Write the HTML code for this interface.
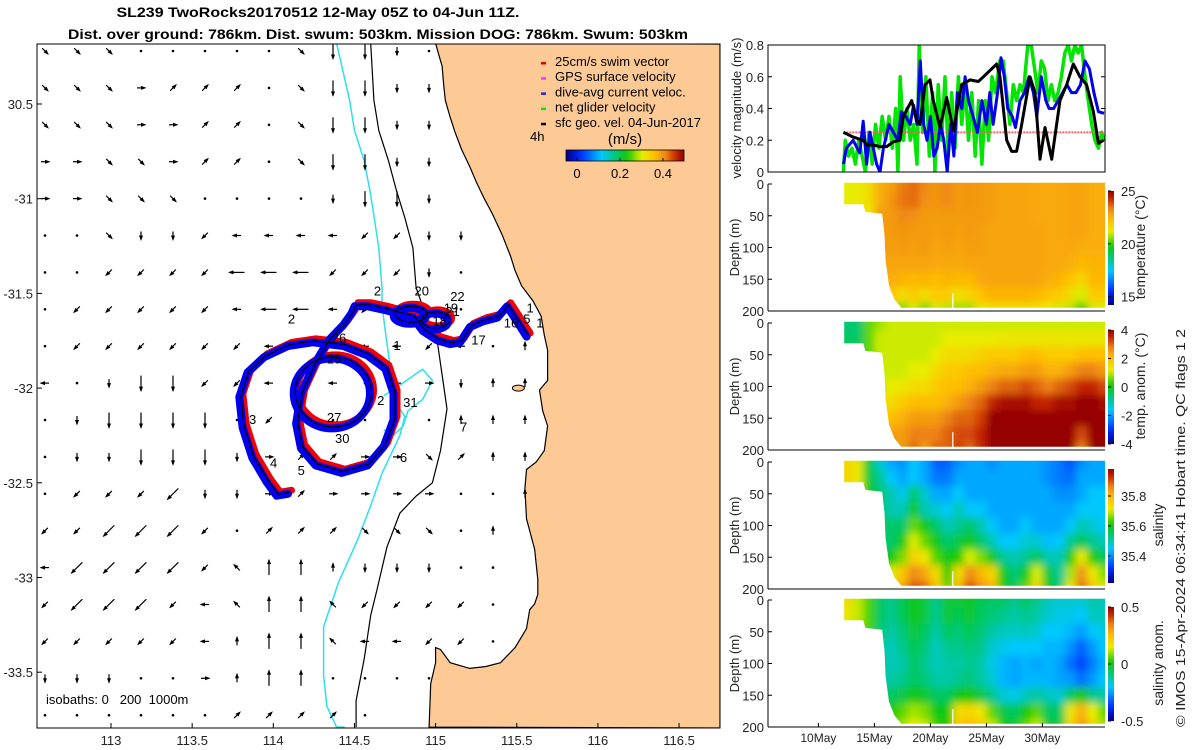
<!DOCTYPE html>
<html><head><meta charset="utf-8">
<style>
html,body{margin:0;padding:0;background:#fff;}
svg{display:block;font-family:"Liberation Sans","DejaVu Sans",sans-serif;}
</style></head>
<body>
<svg id="fig" width="1200" height="750" viewBox="0 0 1200 750" xmlns="http://www.w3.org/2000/svg">
<defs>
<filter id="blur" x="-5%" y="-5%" width="110%" height="110%"><feGaussianBlur stdDeviation="4"/></filter>
<linearGradient id="jetH" x1="0" x2="1" y1="0" y2="0"></linearGradient>
<linearGradient id="jetV" x1="0" x2="0" y1="1" y2="0"></linearGradient>
</defs>
<g font-weight="bold" font-size="14" text-anchor="middle">
<text x="318" y="17" textLength="403" lengthAdjust="spacingAndGlyphs">SL239 TwoRocks20170512 12-May 05Z to 04-Jun 11Z.</text>
<text x="378" y="39" textLength="620" lengthAdjust="spacingAndGlyphs">Dist. over ground: 786km. Dist. swum: 503km. Mission DOG: 786km. Swum: 503km</text>
</g>
<g id="map"></g>
<g id="vel"></g>
<g id="sections"></g>
<text transform="translate(1185,727) rotate(-90)" font-size="13" fill="#222" textLength="398" lengthAdjust="spacingAndGlyphs">© IMOS 15-Apr-2024 06:34:41 Hobart time. QC flags 1  2</text>
</svg>
<script>
// ---------------- DATA ----------------
const coastLon=[115.00,115.02,115.04,115.05,115.06,115.09,115.12,115.16,115.21,115.25,115.30,115.35,115.41,115.46,115.49,115.53,115.60,115.65,115.67,115.69,115.69,115.69,115.64,115.66,115.69,115.67,115.62,115.56,115.55,115.56,115.61,115.63,115.63,115.61,115.58,115.56,115.49,115.40,115.31,115.21,115.09,115.03,115.00,115.00,114.97,114.96];
const coastLat=[-30.18,-30.24,-30.30,-30.40,-30.48,-30.57,-30.65,-30.74,-30.83,-30.91,-31.00,-31.08,-31.19,-31.30,-31.38,-31.46,-31.54,-31.62,-31.72,-31.80,-31.88,-31.96,-32.01,-32.12,-32.20,-32.33,-32.39,-32.43,-32.53,-32.69,-32.85,-33.01,-33.09,-33.14,-33.17,-33.27,-33.37,-33.45,-33.47,-33.48,-33.45,-33.38,-33.37,-33.45,-33.56,-33.79];
const iso200Lon=[114.39,114.47,114.50,114.56,114.60,114.65,114.67,114.67,114.69,114.75,114.81,114.78,114.67,114.60,114.52,114.40,114.31,114.31,114.33,114.39,114.44];
const iso200Lat=[-30.18,-30.48,-30.64,-30.80,-30.98,-31.26,-31.47,-31.56,-31.70,-32.07,-32.15,-32.25,-32.45,-32.62,-32.80,-33.03,-33.26,-33.52,-33.68,-33.79,-33.79];
const iso1000Lon=[114.60,114.62,114.65,114.71,114.76,114.81,114.86,114.88,114.95,115.01,115.07,115.03,114.98,114.88,114.78,114.70,114.64,114.60,114.56,114.51,114.51];
const iso1000Lat=[-30.18,-30.48,-30.64,-30.80,-30.96,-31.10,-31.26,-31.47,-31.64,-31.75,-32.11,-32.33,-32.50,-32.57,-32.66,-32.84,-33.06,-33.20,-33.43,-33.65,-33.79];
const canyonLon=[114.68,114.77,114.92,114.98,114.92,114.83,114.80,114.74,114.68];
const canyonLat=[-32.04,-31.99,-31.90,-31.96,-32.06,-32.12,-32.20,-32.25,-32.22];
const trackLon=[115.57,115.51,115.45,115.39,115.30,115.22,115.16,115.10,115.02,114.93,114.87,114.78,114.70,114.59,114.51,114.49,114.44,114.35,114.26,114.18,114.15,114.18,114.27,114.43,114.59,114.69,114.75,114.75,114.70,114.59,114.44,114.25,114.10,113.95,113.85,113.80,113.82,113.88,113.97,114.03,114.10];
const trackLat=[-31.72,-31.64,-31.56,-31.62,-31.64,-31.67,-31.75,-31.76,-31.74,-31.69,-31.62,-31.60,-31.58,-31.56,-31.56,-31.60,-31.66,-31.74,-31.87,-32.02,-32.18,-32.31,-32.40,-32.44,-32.40,-32.30,-32.16,-32.02,-31.89,-31.82,-31.77,-31.75,-31.77,-31.83,-31.91,-32.04,-32.20,-32.36,-32.49,-32.56,-32.55];
const innerLon=114.37, innerLat=-32.02, innerRx=0.235, innerRy=0.185;
const loopALon=114.85, loopALat=-31.61, loopBLon=115.00, loopBLat=-31.64;
const trackLabels=["2","20","22","19","21","18","16","17","1","5","1","2","26","25","1","31","2","27","30","3","4","5","6","7"];
const labelLon=[114.62,114.87,115.09,115.05,115.06,114.98,115.42,115.22,115.56,115.54,115.62,114.09,114.36,114.33,114.74,114.80,114.64,114.33,114.38,113.85,113.98,114.15,114.78,115.15];
const labelLat=[-31.51,-31.51,-31.54,-31.60,-31.62,-31.67,-31.68,-31.77,-31.60,-31.66,-31.68,-31.66,-31.76,-31.87,-31.80,-32.10,-32.09,-32.18,-32.29,-32.19,-32.42,-32.46,-32.39,-32.23];
const vecRows=[
"ccc.....cDDd.    ",
"cccrnnn.cDDdd    ",
"cccrrnn.cDDdd    ",
"rrccrnn.cDDdd    ",
"rrccc....dDDd    ",
"..cddbllllbbdd   ",
"..bbbbLLLbbbd.   ",
".bbbbblLLlb.l.   ",
".bbbbbblllllbl.u ",
"l.dDDbbl.l.lrduu ",
".dDDDD.b.....uuu ",
".ddDDDdrnnrrcnuu ",
".bbbBddrnrrrr..u ",
"bbBBBb.nnnccc.u  ",
"lBBBBbwUUuddd..  ",
"bBBBblwUUwbbbb.  ",
"bbbbbluUUwllbb.  ",
"ddd..ruUU....    ",
"......nnnn.      "];
const blackDay=[12.23,13.12,14.01,14.31,14.9,15.5,16.1,16.69,17.29,17.58,18.33,18.77,19.07,19.52,19.96,20.26,20.86,21.45,22.05,22.79,23.54,24.28,24.73,25.32,25.92,26.21,26.81,27.26,27.7,28.15,28.89,29.34,29.79,30.23,30.83,31.57,32.17,32.76,33.36,33.95,34.55,35.0,35.44];
const blackVal=[0.25,0.22,0.2,0.17,0.17,0.16,0.16,0.19,0.2,0.35,0.45,0.33,0.3,0.55,0.58,0.45,0.28,0.47,0.26,0.55,0.58,0.57,0.6,0.64,0.68,0.6,0.2,0.13,0.13,0.3,0.6,0.5,0.08,0.28,0.08,0.45,0.55,0.68,0.6,0.55,0.38,0.18,0.2];
const blueDay=[12.23,12.5,13.1,13.7,14.0,14.3,14.6,14.9,15.2,15.5,15.8,16.3,16.7,17.1,17.4,17.8,18.2,18.5,18.8,19.1,19.4,19.7,20.0,20.3,20.6,20.9,21.2,21.5,21.8,22.1,22.4,22.8,23.1,23.4,23.8,24.2,24.6,25.0,25.3,25.6,26.0,26.3,26.6,26.9,27.3,27.6,28.0,28.4,28.8,29.2,29.5,29.9,30.3,30.6,31.0,31.4,31.8,32.2,32.6,33.0,33.4,33.8,34.2,34.6,35.0,35.5];
const blueVal=[0.05,0.15,0.2,0.12,0.32,0.05,0.25,0.15,0.05,0.0,0.15,0.3,0.25,0.2,0.38,0.35,0.3,0.42,0.3,0.7,0.3,0.2,0.35,0.1,0.15,0.3,0.2,0.0,0.3,0.1,0.5,0.4,0.6,0.45,0.35,0.25,0.45,0.3,0.5,0.3,0.5,0.72,0.6,0.4,0.35,0.28,0.45,0.5,0.6,0.5,0.35,0.6,0.45,0.4,0.4,0.45,0.5,0.55,0.5,0.5,0.55,0.7,0.65,0.5,0.38,0.37];
const greenDay=[12.23,12.4,12.7,13.0,13.3,13.6,13.9,14.2,14.5,14.8,15.1,15.4,15.7,16.0,16.3,16.6,16.9,17.1,17.3,17.6,17.9,18.2,18.5,18.8,19.0,19.3,19.6,19.9,20.2,20.4,20.7,21.0,21.3,21.6,21.9,22.2,22.5,22.8,23.1,23.4,23.7,24.0,24.3,24.6,24.9,25.2,25.5,25.8,26.2,26.5,26.8,27.1,27.4,27.7,28.0,28.3,28.7,29.0,29.3,29.6,29.9,30.2,30.5,30.8,31.1,31.4,31.7,32.0,32.3,32.6,32.9,33.2,33.5,33.8,34.1,34.4,34.7,35.0,35.3,35.5];
const greenVal=[0.0,0.2,0.1,0.15,0.05,0.2,0.1,0.0,0.25,0.05,0.3,0.15,0.35,0.2,0.35,0.15,0.4,0.0,0.6,0.2,0.4,0.2,0.3,0.05,0.8,0.25,0.6,0.1,0.5,0.0,0.55,0.2,0.6,0.1,0.5,0.15,0.6,0.3,0.55,0.2,0.5,0.1,0.45,0.05,0.45,0.2,0.6,0.5,0.7,0.7,0.5,0.3,0.55,0.45,0.55,0.5,0.8,0.8,0.65,0.5,0.7,0.65,0.45,0.55,0.45,0.5,0.6,0.75,0.8,0.7,0.8,0.75,0.8,0.6,0.45,0.3,0.2,0.15,0.25,0.2];
const swimSpeed=0.25;
const velTicks=[0,0.2,0.4,0.6,0.8];
const secDays=[12.5,13.5,14.5,15.5,16.5,17.5,18.5,19.5,20.5,21.5,22.5,23.5,24.5,25.5,26.5,27.5,28.5,29.5,30.5,31.5,32.5,33.5,34.5,35.5];
const secDepths=[0,25,50,75,100,125,150,175,200];
const maskDay=[12.3,35.6,35.6,17.4,16.8,16.3,16.0,15.9,15.7,14.2,14.0,12.3];
const maskDepth=[-2,-2,195,195,182,160,120,80,47,44,32,32];
const tempVals=[
[21.2,21.2,21.6,22.6,22.9,23.4,23.6,23.3,23.1,23.3,23.0,23.1,23.0,22.9,22.8,22.8,22.8,22.7,22.7,22.7,22.8,22.8,22.6,22.6],
[21.2,21.2,21.6,22.6,23.1,23.5,23.6,23.2,23.1,23.3,23.0,23.1,23.0,22.9,22.8,22.8,22.8,22.7,22.7,22.7,22.8,22.8,22.6,22.6],
[21.2,21.2,21.3,23.0,23.0,23.3,23.2,23.0,23.0,23.0,23.0,23.0,23.0,22.9,22.8,22.8,22.8,22.7,22.7,22.7,22.8,22.8,22.6,22.6],
[21.5,21.5,21.5,23.0,23.0,23.1,23.0,23.0,22.9,23.0,22.9,23.0,22.9,22.8,22.8,22.8,22.8,22.8,22.7,22.7,22.8,22.8,22.6,22.6],
[21.5,21.5,21.5,23.0,22.9,23.0,22.9,23.0,22.8,22.9,22.8,22.9,22.9,22.8,22.8,22.8,22.8,22.8,22.7,22.7,22.7,22.6,22.6,22.6],
[21.5,21.5,21.5,22.8,22.8,22.8,22.8,22.8,22.7,22.7,22.7,22.8,22.8,22.8,22.8,22.8,22.8,22.8,22.7,22.7,22.6,22.4,22.5,22.5],
[21.5,21.5,21.5,22.6,22.6,22.5,22.4,22.5,22.3,22.5,22.4,22.4,22.7,22.8,22.8,22.8,22.8,22.8,22.6,22.5,22.2,21.8,22.4,22.4],
[21.5,21.5,21.5,22.2,22.2,21.6,22.0,21.6,22.0,22.0,21.5,21.8,22.2,22.5,22.5,22.5,22.5,22.4,22.2,22.0,21.6,21.0,22.0,22.0],
[21.0,21.0,21.0,21.0,21.2,20.3,21.0,20.3,21.0,20.8,20.6,20.6,21.3,21.5,21.5,21.5,21.5,21.5,21.2,21.0,20.8,19.8,21.0,21.0]];
const tanomVals=[
[-0.6,-0.6,0.5,0.8,1.0,1.0,1.0,1.0,1.0,1.0,1.0,1.0,1.0,1.0,1.0,1.0,1.0,1.0,1.0,1.0,1.0,1.0,1.0,1.0],
[-0.5,-0.5,0.5,1.0,1.0,1.0,1.0,1.0,1.0,1.2,1.2,1.2,1.2,1.2,1.3,1.3,1.3,1.3,1.3,1.3,1.3,1.3,1.3,1.3],
[0.0,0.0,0.5,1.0,1.0,1.0,1.0,1.0,1.2,1.5,1.5,1.5,1.7,1.8,1.8,1.8,2.0,2.0,1.8,1.8,1.8,2.0,2.0,2.0],
[0.0,0.0,0.5,1.0,1.0,1.0,1.2,1.2,1.5,1.8,1.8,2.0,2.0,2.2,2.3,2.3,2.5,2.5,2.2,2.2,2.5,2.8,2.8,2.5],
[0.0,0.0,1.0,1.0,1.2,1.3,1.5,1.5,1.8,2.0,2.0,2.2,2.5,2.8,3.0,3.0,3.2,3.0,2.8,3.0,3.2,3.5,3.5,3.2],
[0.0,0.0,1.0,1.5,1.5,1.8,2.0,2.0,2.0,2.2,2.5,2.8,3.0,3.5,3.8,3.8,3.8,3.5,3.5,3.8,3.8,4.0,4.0,3.8],
[0.0,0.0,1.0,1.8,2.0,2.2,2.5,2.5,2.5,2.8,3.0,3.0,3.3,4.0,4.0,4.0,4.0,4.0,4.0,4.0,4.0,4.0,4.0,4.0],
[0.0,0.0,1.0,2.0,2.5,2.5,2.8,2.8,2.8,3.0,3.2,3.2,3.5,4.0,4.0,4.0,4.0,4.0,4.0,4.0,4.0,3.2,4.0,4.0],
[0.0,0.0,1.0,2.0,2.8,2.5,3.0,2.5,3.0,3.0,3.3,3.0,3.5,4.0,4.0,4.0,4.0,4.0,4.0,4.0,4.0,2.8,4.0,4.0]];
const salVals=[
[35.75,35.72,35.58,35.48,35.42,35.40,35.45,35.42,35.36,35.36,35.40,35.42,35.42,35.40,35.42,35.42,35.42,35.42,35.40,35.38,35.35,35.40,35.42,35.42],
[35.75,35.72,35.58,35.52,35.45,35.42,35.45,35.42,35.38,35.38,35.42,35.42,35.42,35.42,35.42,35.42,35.42,35.42,35.40,35.38,35.37,35.42,35.42,35.42],
[35.72,35.70,35.60,35.55,35.50,35.46,35.55,35.48,35.42,35.42,35.45,35.42,35.42,35.42,35.42,35.42,35.42,35.42,35.42,35.40,35.40,35.42,35.45,35.45],
[35.70,35.70,35.60,35.55,35.50,35.50,35.60,35.50,35.48,35.45,35.50,35.45,35.45,35.42,35.42,35.42,35.42,35.42,35.42,35.42,35.42,35.45,35.45,35.45],
[35.70,35.70,35.60,35.55,35.55,35.55,35.65,35.60,35.55,35.50,35.52,35.55,35.50,35.45,35.42,35.42,35.45,35.42,35.42,35.42,35.45,35.50,35.48,35.45],
[35.70,35.70,35.60,35.55,35.55,35.60,35.70,35.65,35.60,35.55,35.57,35.60,35.55,35.50,35.45,35.45,35.48,35.48,35.44,35.45,35.52,35.56,35.52,35.50],
[35.70,35.70,35.60,35.58,35.60,35.66,35.76,35.72,35.64,35.60,35.62,35.70,35.66,35.60,35.52,35.50,35.52,35.56,35.50,35.50,35.62,35.72,35.62,35.56],
[35.70,35.70,35.60,35.60,35.70,35.78,35.86,35.82,35.74,35.62,35.74,35.86,35.80,35.75,35.60,35.54,35.60,35.70,35.58,35.52,35.68,35.85,35.72,35.66],
[35.70,35.70,35.60,35.62,35.75,35.82,35.90,35.88,35.78,35.65,35.80,35.90,35.85,35.80,35.62,35.56,35.65,35.75,35.60,35.55,35.72,35.88,35.78,35.70]];
const sanomVals=[
[0.18,0.12,0.05,-0.06,-0.1,-0.05,0.0,-0.03,-0.1,-0.02,-0.03,0.0,-0.05,-0.06,-0.06,-0.1,-0.06,-0.1,-0.14,-0.16,-0.16,-0.16,-0.12,-0.14],
[0.16,0.12,0.05,-0.06,-0.1,-0.05,0.0,-0.03,-0.1,-0.03,-0.05,-0.02,-0.06,-0.08,-0.1,-0.12,-0.1,-0.12,-0.16,-0.18,-0.18,-0.2,-0.14,-0.14],
[0.12,0.1,0.05,-0.08,-0.12,-0.08,-0.03,-0.06,-0.12,-0.06,-0.08,-0.05,-0.08,-0.12,-0.14,-0.15,-0.14,-0.16,-0.2,-0.2,-0.22,-0.25,-0.2,-0.18],
[0.1,0.08,0.05,-0.1,-0.14,-0.1,-0.05,-0.08,-0.14,-0.1,-0.1,-0.08,-0.1,-0.16,-0.18,-0.2,-0.2,-0.2,-0.22,-0.22,-0.26,-0.32,-0.25,-0.2],
[0.1,0.08,0.05,-0.1,-0.14,-0.12,-0.06,-0.1,-0.14,-0.12,-0.12,-0.1,-0.12,-0.18,-0.22,-0.24,-0.22,-0.24,-0.22,-0.24,-0.3,-0.35,-0.28,-0.22],
[0.1,0.08,0.05,-0.1,-0.12,-0.1,-0.06,-0.08,-0.12,-0.12,-0.1,-0.08,-0.12,-0.16,-0.22,-0.24,-0.22,-0.22,-0.22,-0.24,-0.25,-0.3,-0.25,-0.2],
[0.1,0.08,0.05,-0.06,-0.06,-0.04,0.0,-0.02,-0.06,-0.06,0.0,0.02,-0.04,-0.1,-0.16,-0.18,-0.14,-0.12,-0.14,-0.16,-0.06,0.02,-0.1,-0.12],
[0.1,0.08,0.05,0.0,0.02,0.06,0.1,0.08,0.0,0.0,0.18,0.2,0.16,0.06,-0.04,-0.06,0.02,0.06,-0.06,-0.06,0.16,0.28,0.14,0.06],
[0.1,0.08,0.05,0.02,0.05,0.1,0.14,0.12,0.04,0.02,0.24,0.25,0.22,0.12,0.0,-0.02,0.06,0.12,-0.02,-0.04,0.2,0.32,0.2,0.1]];
const dateTicks=[10,15,20,25,30];
const dateLabels=["10May","15May","20May","25May","30May"];
const depthTicks=[0,50,100,150,200];
const lonTicks=[113,113.5,114,114.5,115,115.5,116,116.5];
const latTicks=[-30.5,-31,-31.5,-32,-32.5,-33,-33.5];
const latLabels=["30.5","-31","-31.5","-32","-32.5","-33","-33.5"];

// ---------------- HELPERS ----------------
const NS="http://www.w3.org/2000/svg";
function mk(tag,attrs,parent){const e=document.createElementNS(NS,tag);for(const k in attrs)e.setAttribute(k,attrs[k]);if(parent)parent.appendChild(e);return e;}
const cmapStops=[[0,[0,0,130]],[0.12,[0,40,255]],[0.3,[0,200,255]],[0.42,[0,200,120]],[0.52,[20,200,0]],[0.64,[230,240,0]],[0.74,[255,195,0]],[0.84,[240,140,20]],[0.93,[200,40,0]],[1,[150,0,0]]];
function cmap(t){t=Math.max(0,Math.min(1,t));for(let i=1;i<cmapStops.length;i++){if(t<=cmapStops[i][0]){const a=cmapStops[i-1],b=cmapStops[i];const f=(t-a[0])/(b[0]-a[0]);const c=a[1].map((v,j)=>Math.round(v+(b[1][j]-v)*f));return `rgb(${c[0]},${c[1]},${c[2]})`;}}return "rgb(150,0,0)";}
for(const id of ["jetH","jetV"]){const g=document.getElementById(id);for(let i=0;i<=20;i++){mk("stop",{offset:(i/20),"stop-color":cmap(i/20)},g);}}

// ---------------- MAP ----------------
const map=document.getElementById("map");
const MX0=37,MX1=720,MY0=44,MY1=728;
const lonX=lon=>111+(lon-113)*162.3;
const latY=lat=>104+(-30.5-lat)*189.4;
mk("rect",{x:MX0,y:MY0,width:MX1-MX0,height:MY1-MY0,fill:"#fff"},map);
const mclip=mk("clipPath",{id:"mclip"},map);mk("rect",{x:MX0,y:MY0,width:MX1-MX0,height:MY1-MY0},mclip);
const mg=mk("g",{"clip-path":"url(#mclip)"},map);
function pts(lons,lats){return lons.map((l,i)=>lonX(l).toFixed(1)+","+latY(lats[i]).toFixed(1)).join(" ");}
const land=mk("polygon",{points:pts(coastLon,coastLat)+` ${MX1},${MY1} ${MX1},${MY0}`,fill:"#fdca96",stroke:"#000","stroke-width":1.2},mg);


const rott=mk("ellipse",{cx:lonX(115.51),cy:latY(-32.0),rx:6,ry:3,fill:"#fdca96",stroke:"#000","stroke-width":1},mg);


const iso2=mk("polyline",{points:pts(iso200Lon,iso200Lat),fill:"none",stroke:"#2ee0ee","stroke-width":1.5},mg);


const isoc=mk("polyline",{points:pts(canyonLon,canyonLat),fill:"none",stroke:"#2ee0ee","stroke-width":1.5},mg);


const iso1=mk("polyline",{points:pts(iso1000Lon,iso1000Lat),fill:"none",stroke:"#000","stroke-width":1.2},mg);


const dirs={d:[0,1],u:[0,-1],r:[1,0],l:[-1,0],c:[0.71,0.71],b:[-0.71,0.71],n:[0.71,-0.71],w:[-0.71,-0.71]};
const vg=mk("g",{},mg);


vecRows.forEach((row,ri)=>{
  for(let ci=0;ci<row.length;ci++){
    const ch=row[ci]; if(ch===' ')continue;
    const x=45+ci*32, y=51+ri*36.9;
    if(ch==='.'){const dt=mk("circle",{cx:x,cy:y,r:1.3,fill:"#000"},vg);
      
      continue;}
    const d=dirs[ch.toLowerCase()]; const L=(ch===ch.toUpperCase())?15:8;
    const x1=x-d[0]*L/2,y1=y-d[1]*L/2,x2=x+d[0]*L/2,y2=y+d[1]*L/2;
    const ln=mk("line",{x1:x1,y1:y1,x2:x2,y2:y2,stroke:"#000","stroke-width":1.2},vg);
    
    
    const px=-d[1],py=d[0],h=4,w=2;
    const hd=mk("polygon",{points:`${x2+d[0]*1.5},${y2+d[1]*1.5} ${x2-d[0]*h+px*w},${y2-d[1]*h+py*w} ${x2-d[0]*h-px*w},${y2-d[1]*h-py*w}`,fill:"#000"},vg);
    
    
  }
});
const tg=mk("g",{},mg);


function trackShapes(dx,dy,col,w){
  const g=mk("g",{transform:`translate(${dx},${dy})`,stroke:col,"stroke-width":w,fill:"none","stroke-linejoin":"round","stroke-linecap":"round"},tg);
  mk("polyline",{points:pts(trackLon,trackLat)},g);
  mk("ellipse",{cx:lonX(innerLon),cy:latY(innerLat),rx:innerRx*162.3,ry:innerRy*189.4},g);
  mk("ellipse",{cx:lonX(loopALon),cy:latY(loopALat),rx:16,ry:8},g);
  mk("ellipse",{cx:lonX(loopBLon),cy:latY(loopBLat),rx:14,ry:8},g);
  return g;
}
const tr=trackShapes(2,-2,"#f00000",7);


const tb=trackShapes(-1.5,1.5,"#0000f0",8);


const tk=trackShapes(0,0,"#000",1.2);


const lg=mk("g",{"font-size":13,fill:"#000"},mg);
trackLabels.forEach((t,i)=>{const e=mk("text",{x:lonX(labelLon[i]),y:latY(labelLat[i])},lg);e.textContent=t;
  
  });
const isot=mk("text",{x:46,y:704,"font-size":13,style:"white-space:pre"},mg);isot.textContent="isobaths: 0   200  1000m";


const leg=mk("g",{"font-size":13},mg);


const legItems=[["25cm/s swim vector","#e00000"],["GPS surface velocity","#ff33ff"],["dive-avg current veloc.","#2020ff"],["net glider velocity","#00ee00"],["sfc geo. vel. 04-Jun-2017","#000"]];
legItems.forEach((it,i)=>{const y=66+i*15.2;
  const m=mk("rect",{x:541,y:y-4,width:5,height:2.5,fill:it[1]},leg);
  
  
  const t=mk("text",{x:555,y:y},leg);t.textContent=it[0];
  
  });
const t4=mk("text",{x:530,y:141,"font-size":13},mg);t4.textContent="4h";


const tms=mk("text",{x:625,y:144,"font-size":15,"text-anchor":"middle"},mg);tms.textContent="(m/s)";


const cb=mk("rect",{x:566,y:150,width:118,height:11,fill:"url(#jetH)",stroke:"#000","stroke-width":0.8},mg);


[["0",577],["0.2",620],["0.4",663]].forEach(a=>{const t=mk("text",{x:a[1],y:178,"font-size":13,"text-anchor":"middle"},mg);t.textContent=a[0];
  
  
  mk("line",{x1:a[1],x2:a[1],y1:161,y2:158,stroke:"#000"},mg);});
const fr=mk("rect",{x:MX0,y:MY0,width:MX1-MX0,height:MY1-MY0,fill:"none",stroke:"#000","stroke-width":1},map);


lonTicks.forEach(l=>{const x=lonX(l);mk("line",{x1:x,x2:x,y1:MY1,y2:MY1-5,stroke:"#000"},map);
  const t=mk("text",{x:x,y:745,"font-size":13,"text-anchor":"middle",fill:"#222"},map);t.textContent=String(l);
  
  });
latTicks.forEach((l,i)=>{const y=latY(l);mk("line",{x1:MX0,x2:MX0+5,y1:y,y2:y,stroke:"#000"},map);
  const t=mk("text",{x:33,y:y+5,"font-size":13,"text-anchor":"end",fill:"#222"},map);t.textContent=latLabels[i];
  
  });

// ---------------- RIGHT PANELS ----------------
const PX0=768,PX1=1105;
const dayX=d=>PX0+(d-5.5)*11.2;
const vel=document.getElementById("vel");
const VY0=45,VY1=172;
const vY=v=>VY1-v/0.8*(VY1-VY0);
const vclip=mk("clipPath",{id:"vclip"},vel);mk("rect",{x:PX0,y:VY0,width:PX1-PX0,height:VY1-VY0},vclip);
const vg2=mk("g",{"clip-path":"url(#vclip)"},vel);
function line(days,vals,col,w,name){const p=mk("polyline",{points:days.map((d,i)=>dayX(d).toFixed(1)+","+vY(vals[i]).toFixed(1)).join(" "),fill:"none",stroke:col,"stroke-width":w,"stroke-linejoin":"round"},vg2);
  
  }
line(greenDay,greenVal,"#00e600",3.5,"net-glider-velocity-line");
const sw=mk("line",{x1:dayX(12.23),x2:dayX(35.6),y1:vY(swimSpeed),y2:vY(swimSpeed),stroke:"#f06060","stroke-width":2,"stroke-dasharray":"2,1"},vg2);


line(blueDay,blueVal,"#0000ee",3,"dive-avg-velocity-line");
line(blackDay,blackVal,"#000",3,"geostrophic-velocity-line");
const vf=mk("rect",{x:PX0,y:VY0,width:PX1-PX0,height:VY1-VY0,fill:"none",stroke:"#000","stroke-width":1},vel);


velTicks.forEach(v=>{const y=vY(v);mk("line",{x1:PX0,x2:PX0+4,y1:y,y2:y,stroke:"#000"},vel);mk("line",{x1:PX1,x2:PX1-4,y1:y,y2:y,stroke:"#000"},vel);
  const t=mk("text",{x:764,y:y+5,"font-size":13,"text-anchor":"end",fill:"#222"},vel);t.textContent=String(v);
  
  });
const vt=mk("text",{transform:"translate(741,108) rotate(-90)","font-size":13,"text-anchor":"middle",fill:"#222"},vel);vt.textContent="velocity magnitude (m/s)";



const sec=document.getElementById("sections");
const panels=[
 {vals:tempVals,y0:184,min:14.2,max:25,ticks:[15,20,25],tl:["15","20","25"],title:"temperature (°C)",tx:1145,name:"temperature"},
 {vals:tanomVals,y0:323,min:-4,max:4,ticks:[-4,-2,0,2,4],tl:["-4","-2","0","2","4"],title:"temp. anom. (°C)",tx:1145,name:"temp-anomaly"},
 {vals:salVals,y0:462,min:35.22,max:35.98,ticks:[35.4,35.6,35.8],tl:["35.4","35.6","35.8"],title:"salinity",tx:1163,name:"salinity"},
 {vals:sanomVals,y0:600,min:-0.5,max:0.5,ticks:[-0.5,0,0.5],tl:["-0.5","0","0.5"],title:"salinity anom.",tx:1163,name:"salinity-anomaly"}];
const dStep=25;
panels.forEach((p,pi)=>{
  const H=127; const dY=d=>p.y0+d/200*H;
  const g=mk("g",{},sec);
  
  
  const cp=mk("clipPath",{id:"sc"+pi},g);
  mk("polygon",{points:maskDay.map((d,i)=>dayX(d).toFixed(1)+","+dY(maskDepth[i]).toFixed(1)).join(" ")},cp);
  const cg=mk("g",{"clip-path":`url(#sc${pi})`},g);
  const bg=mk("g",{filter:"url(#blur)"},cg);
  
  
  p.vals.forEach((row,ri)=>{row.forEach((v,ci)=>{
    const d=secDays[ci];const x=dayX(d-0.5)-(ci===0?12:0);const w=11.2+(ci===0?12:0)+(ci===secDays.length-1?12:0);
    const y=dY(secDepths[ri]-dStep/2)-(ri===0?10:0);const h=dStep/200*H+(ri===0?10:0)+(ri===secDepths.length-1?10:0);
    const r=mk("rect",{x:x.toFixed(1),y:y.toFixed(1),width:(w+0.5).toFixed(1),height:(h+0.5).toFixed(1),fill:cmap((v-p.min)/(p.max-p.min))},bg);
    
    
  });});
  mk("line",{x1:dayX(22.0),x2:dayX(22.0),y1:dY(172),y2:dY(200),stroke:"#fff","stroke-width":1.2},g);
  mk("line",{x1:PX0,x2:PX1,y1:dY(200),y2:dY(200),stroke:"#000","stroke-width":1},g);
  mk("line",{x1:PX0,x2:PX0,y1:dY(0),y2:dY(200),stroke:"#000","stroke-width":1},g);
  depthTicks.forEach(dd=>{const y=dY(dd);mk("line",{x1:PX0,x2:PX0+4,y1:y,y2:y,stroke:"#000"},g);
    const t=mk("text",{x:764,y:y+5,"font-size":13,"text-anchor":"end",fill:"#222"},g);t.textContent=String(dd);
    
    });
  const yt=mk("text",{transform:`translate(739,${p.y0+H/2}) rotate(-90)`,"font-size":13,"text-anchor":"middle",fill:"#222"},g);yt.textContent="Depth (m)";
  
  
  const cbY0=p.y0+7,cbY1=p.y0+121;
  const cbar=mk("rect",{x:1108,y:cbY0,width:6,height:cbY1-cbY0,fill:"url(#jetV)"},g);
  
  
  p.ticks.forEach((tv,ti)=>{const y=cbY1-(tv-p.min)/(p.max-p.min)*(cbY1-cbY0);
    mk("line",{x1:1108,x2:1111,y1:y,y2:y,stroke:"#000"},g);
    const t=mk("text",{x:1121,y:y+5,"font-size":13,fill:"#222"},g);t.textContent=p.tl[ti];
    
    });
  const ct=mk("text",{transform:`translate(${p.tx},${p.y0+63}) rotate(-90)`,"font-size":14,"text-anchor":"middle",fill:"#222"},g);ct.textContent=p.title;
  
  
});
dateTicks.forEach((d,i)=>{const x=dayX(d);mk("line",{x1:x,x2:x,y1:727,y2:723,stroke:"#000"},sec);
  const t=mk("text",{x:x,y:742,"font-size":12,"text-anchor":"middle",fill:"#222"},sec);t.textContent=dateLabels[i];
  
  });
</script>
</body></html>
